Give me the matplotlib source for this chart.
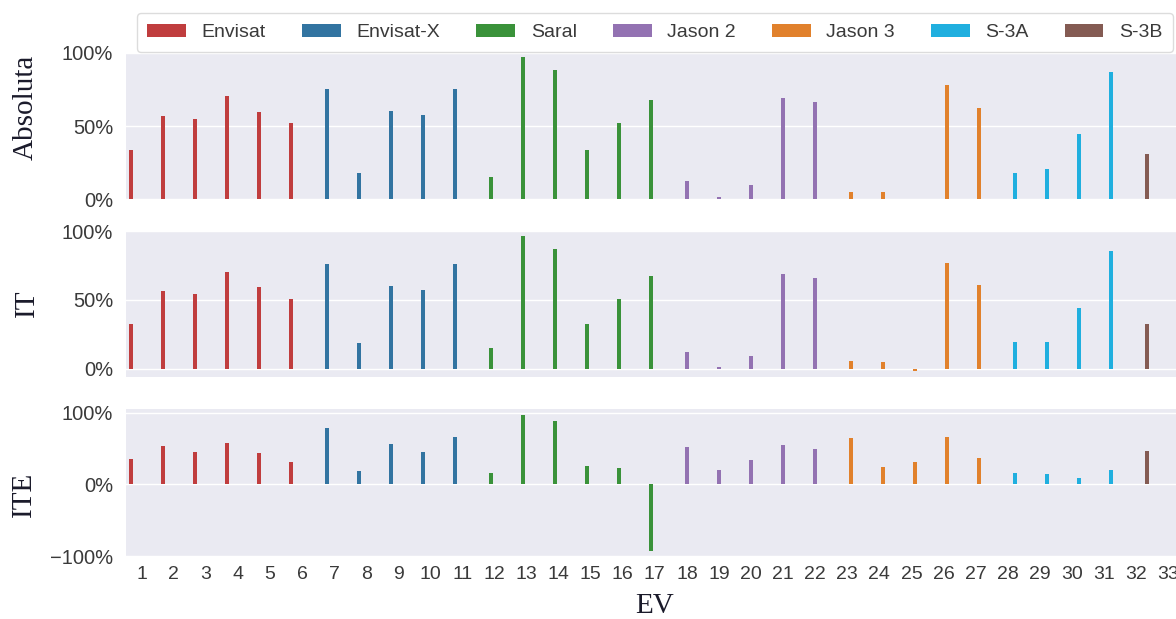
import colorsys
import matplotlib
matplotlib.use("Agg")
import matplotlib.pyplot as plt
import matplotlib.colors as mcolors
from matplotlib.ticker import PercentFormatter, MultipleLocator

# ---- data -------------------------------------------------------------
ev_labels = [str(i) for i in range(1, 34)]
satellites = ["Envisat", "Envisat-X", "Saral", "Jason 2", "Jason 3", "S-3A", "S-3B"]
ev_satellite = (["Envisat"] * 6 + ["Envisat-X"] * 5 + ["Saral"] * 6 +
                ["Jason 2"] * 5 + ["Jason 3"] * 5 + ["S-3A"] * 4 + ["S-3B"])

absoluta = [0.336, 0.568, 0.545, 0.707, 0.598, 0.518, 0.755, 0.180, 0.602, 0.575,
            0.755, 0.152, 0.968, 0.882, 0.336, 0.520, 0.680, 0.124, 0.014, 0.096,
            0.690, 0.663, 0.053, 0.053, 0.000, 0.780, 0.624, 0.177, 0.206, 0.447,
            0.867, 0.307]
it = [0.329, 0.565, 0.541, 0.703, 0.594, 0.510, 0.758, 0.186, 0.604, 0.575,
      0.758, 0.155, 0.966, 0.872, 0.329, 0.510, 0.671, 0.123, 0.012, 0.092,
      0.691, 0.662, 0.060, 0.053, -0.015, 0.766, 0.609, 0.198, 0.198, 0.440,
      0.857, 0.329]
ite = [0.346, 0.537, 0.449, 0.575, 0.430, 0.313, 0.790, 0.187, 0.565, 0.444,
       0.654, 0.159, 0.963, 0.879, 0.262, 0.234, -0.925, 0.519, 0.206, 0.341,
       0.547, 0.491, 0.640, 0.238, 0.313, 0.654, 0.360, 0.160, 0.150, 0.093,
       0.196, 0.458]

panel_names = ["Absoluta", "IT", "ITE"]
panel_values = [absoluta, it, ite]

# ---- style ------------------------------------------------------------
base_colors = ["tab:red", "tab:blue", "tab:green", "tab:purple",
               "tab:orange", "deepskyblue", "tab:brown"]


def desaturate(color, prop=0.75):
    r, g, b = mcolors.to_rgb(color)
    h, l, s = colorsys.rgb_to_hls(r, g, b)
    return colorsys.hls_to_rgb(h, l, s * prop)


sat_colors = {s: desaturate(c) for s, c in zip(satellites, base_colors)}

plt.rcParams.update({
    "font.family": ["Liberation Sans", "DejaVu Sans"],
    "axes.facecolor": "#EAEAF2",
    "axes.edgecolor": "white",
    "grid.color": "white",
    "grid.linewidth": 1.0,
    "axes.unicode_minus": True,
})

W, H = 1176, 619
fig = plt.figure(figsize=(W / 100, H / 100), dpi=100)


def add_px_axes(left, top, right, bottom):
    return fig.add_axes([left / W, 1 - bottom / H, (right - left) / W, (bottom - top) / H])


boxes = [(125.7, 52.7, 1184, 199.3),
         (125.7, 231.0, 1184, 376.7),
         (125.7, 409.0, 1184, 556.0)]
ylims = [(0.0, 1.0), (-0.056, 1.0), (-1.0, 1.05)]
ysteps = [0.5, 0.5, 1.0]

n_hue = len(satellites)
group_width = 0.8
bar_w = group_width / n_hue
offsets = [(-group_width / 2 + bar_w / 2) + k * bar_w for k in range(n_hue)]

axes = []
for p, (box, vals, lim, step) in enumerate(zip(boxes, panel_values, ylims, ysteps)):
    ax = add_px_axes(*box)
    axes.append(ax)
    for k, sat in enumerate(satellites):
        xs = [i + offsets[k] for i, s in enumerate(ev_satellite) if s == sat]
        ys = [vals[i] for i, s in enumerate(ev_satellite) if s == sat]
        ax.bar(xs, ys, width=bar_w, color=sat_colors[sat], label=sat, linewidth=0)
    ax.set_xlim(-0.5, len(ev_labels) - 0.5)
    ax.set_ylim(*lim)
    ax.yaxis.set_major_locator(MultipleLocator(step))
    ax.yaxis.set_major_formatter(PercentFormatter(1.0, decimals=0))
    ax.grid(axis="y", visible=True)
    ax.grid(axis="x", visible=False)
    ax.set_axisbelow(True)
    for sp in ax.spines.values():
        sp.set_visible(False)
    ax.set_xticks(range(len(ev_labels)))
    ax.tick_params(axis="both", length=0, colors="#3a3a3a")
    ax.tick_params(axis="y", labelsize=14.5, pad=9)
    ax.tick_params(axis="x", labelsize=14, pad=7)
    if p < 2:
        ax.set_xticklabels([])
    else:
        ax.set_xticklabels(ev_labels)

# panel titles in serif
label_font = dict(family=["Liberation Serif", "DejaVu Serif"], size=21, color="#1a1a2a")
fig.text(26 / W, 1 - 107 / H, "Absoluta", rotation=90, ha="center", va="center", **label_font)
fig.text(27 / W, 1 - 303 / H, "IT", rotation=90, ha="center", va="center", **label_font)
fig.text(24 / W, 1 - 494 / H, "ITE", rotation=90, ha="center", va="center", **label_font)
fig.text(655 / W, 1 - 606 / H, "EV", ha="center", va="center", **label_font)

top_ax = axes[0]
box = boxes[0]
anchor_y = (box[3] - 13) / (box[3] - box[1])
leg = top_ax.legend(ncol=7, loc="upper center", bbox_to_anchor=(0.5, anchor_y),
                    borderaxespad=0, fontsize=14, frameon=True, borderpad=0.55,
                    columnspacing=1.85,
                    facecolor="white", edgecolor="#dcdcdc", framealpha=1.0)
for t in leg.get_texts():
    t.set_color("#3a3a3a")

fig.savefig("out.png", dpi=100, facecolor="white")
